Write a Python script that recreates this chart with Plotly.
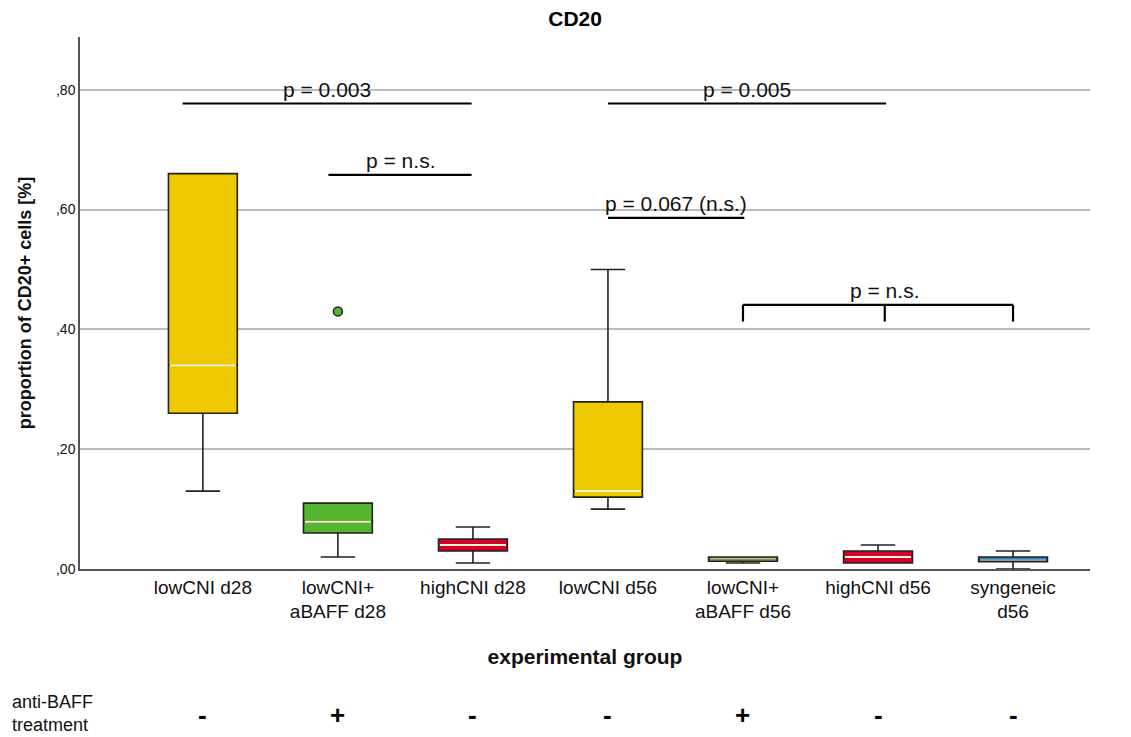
import plotly.graph_objects as go

# ---- data ----
groups = ["lowCNI d28", "lowCNI+<br>aBAFF d28", "highCNI d28", "lowCNI d56",
          "lowCNI+<br>aBAFF d56", "highCNI d56", "syngeneic<br>d56"]
q1 = [0.26, 0.06, 0.03, 0.12, 0.013, 0.01, 0.012]
median = [0.34, 0.079, 0.04, 0.13, 0.017, 0.02, 0.015]
q3 = [0.66, 0.11, 0.05, 0.279, 0.02, 0.03, 0.02]
lower_whisker = [0.13, 0.02, 0.01, 0.10, 0.01, 0.01, 0.0]
upper_whisker = [0.66, 0.11, 0.07, 0.50, 0.02, 0.04, 0.03]
colors = ["#EEC900", "#55B52E", "#D2002C", "#EEC900", "#6DB947", "#D2002C", "#1E8BE0"]
outlier_group = [1]
outlier_value = [0.43]
anti_baff = ["-", "+", "-", "-", "+", "-", "-"]

# significance lines
sig_x0 = [-0.15, 0.93, 3.0, 3.0]
sig_x1 = [1.99, 1.99, 5.06, 4.01]
sig_y = [0.777, 0.658, 0.777, 0.586]
sig_text = ["p = 0.003", "p = n.s.", "p = 0.005", "p = 0.067 (n.s.)"]
bracket_x = [4.0, 5.05, 6.0]
bracket_y = 0.441
bracket_drop = 0.413
bracket_text = "p = n.s."

yticks = [0.0, 0.2, 0.4, 0.6, 0.8]
yticktext = [",00", ",20", ",40", ",60", ",80"]

FONT = "Liberation Sans, Arial, sans-serif"

fig = go.Figure()
for i, g in enumerate(groups):
    fig.add_trace(go.Box(
        x=[i], q1=[q1[i]], median=[median[i]], q3=[q3[i]],
        lowerfence=[lower_whisker[i]], upperfence=[upper_whisker[i]],
        width=0.51, whiskerwidth=0.5, fillcolor=colors[i],
        line=dict(color="#222222", width=1.6), boxpoints=False,
        showlegend=False, hoverinfo="skip"))

fig.add_trace(go.Scatter(
    x=outlier_group, y=outlier_value, mode="markers",
    marker=dict(size=9, color="#55B52E", line=dict(color="#222222", width=1.5)),
    showlegend=False))

shapes = []
for i in range(len(groups)):
    small = (q3[i] - q1[i]) < 0.015
    shapes.append(dict(type="line", xref="x", yref="y",
                       x0=i - 0.245, x1=i + 0.245, y0=median[i], y1=median[i],
                       line=dict(color="#FFF6C8", width=1 if small else 2)))
annotations = []
for x0, x1, y, t in zip(sig_x0, sig_x1, sig_y, sig_text):
    shapes.append(dict(type="line", xref="x", yref="y", x0=x0, x1=x1, y0=y, y1=y,
                       line=dict(color="black", width=2.2)))
    annotations.append(dict(x=(x0 + x1) / 2, y=y, xref="x", yref="y", text=t,
                            showarrow=False, yanchor="bottom", yshift=1,
                            font=dict(size=21, color="#111111", family=FONT)))
shapes.append(dict(type="line", xref="x", yref="y", x0=bracket_x[0], x1=bracket_x[-1],
                   y0=bracket_y, y1=bracket_y, line=dict(color="black", width=2.2)))
for bx in bracket_x:
    shapes.append(dict(type="line", xref="x", yref="y", x0=bx, x1=bx,
                       y0=bracket_drop, y1=bracket_y, line=dict(color="black", width=2.2)))
annotations.append(dict(x=bracket_x[1], y=bracket_y, xref="x", yref="y", text=bracket_text,
                        showarrow=False, yanchor="bottom", yshift=1,
                        font=dict(size=21, color="#111111", family=FONT)))

# bottom row: anti-BAFF treatment
for i, s in enumerate(anti_baff):
    annotations.append(dict(x=i, y=-0.2744, xref="x", yref="paper", text="<b>" + s + "</b>",
                            showarrow=False, yanchor="middle",
                            font=dict(size=26, color="black", family=FONT)))
annotations.append(dict(x=-0.0693, y=-0.2715, xref="paper", yref="paper",
                        text="anti-BAFF<br>treatment", showarrow=False, xanchor="left",
                        yanchor="middle", align="left",
                        font=dict(size=18, color="#111111", family=FONT)))

fig.update_layout(
    width=1123, height=729,
    margin=dict(l=72, r=41, t=29, b=168),
    plot_bgcolor="white", paper_bgcolor="white",
    title=dict(text="<b>CD20</b>", x=0.505, xanchor="center", y=0.986, yanchor="middle",
               font=dict(size=21, color="black", family=FONT)),
    font=dict(family=FONT, color="#111111"),
    shapes=shapes, annotations=annotations,
    showlegend=False,
)
fig.update_xaxes(range=[-0.91, 6.57], tickvals=list(range(len(groups))), ticktext=groups,
                 showgrid=False, zeroline=False, showline=True, linecolor="#555555",
                 linewidth=1.5, ticks="", tickfont=dict(size=19, family=FONT),
                 title=dict(text="<b>experimental group</b>", font=dict(size=21, family=FONT),
                            standoff=28))
fig.update_yaxes(range=[0, 0.888], tickvals=yticks, ticktext=yticktext,
                 showgrid=True, gridcolor="#BBBBBB", gridwidth=1.5, zeroline=False,
                 showline=True, linecolor="#555555", linewidth=1.5, ticks="",
                 tickfont=dict(size=14, family=FONT),
                 title=dict(text="<b>proportion of CD20+ cells [%]</b>",
                            font=dict(size=18, family=FONT), standoff=20))

fig.write_html("out.html")
